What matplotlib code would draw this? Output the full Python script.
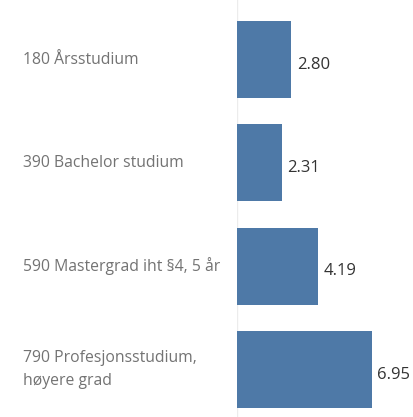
import matplotlib
matplotlib.use("Agg")
import matplotlib.pyplot as plt

# Data
categories = ["180 Årsstudium", "390 Bachelor studium",
              "590 Mastergrad iht §4, 5 år",
              "790 Profesjonsstudium,\nhøyere grad"]
values = [2.80, 2.31, 4.19, 6.95]

plt.rcParams['font.family'] = ['Open Sans', 'DejaVu Sans']

fig = plt.figure(figsize=(4.13, 4.17), dpi=100)
ax = fig.add_axes([237 / 413, 0, 176 / 413, 1])

ypos = list(range(len(values)))
ax.barh(ypos, values, height=0.745, color="#4e79a7", left=0)
ax.set_xlim(0, 176 / 19.4)
ax.set_ylim(3.46, -0.576)

for y, v in zip(ypos, values):
    ax.text(v + 0.28, y + 0.05, f"{v:.2f}", va="center", ha="left",
            fontsize=12, color="#333333")

for y, c in zip(ypos, categories):
    fig.text(23 / 413, 1 - (59.5 + 103.3 * y) / 417, c, va="center", ha="left",
             fontsize=11.3, color="#737373", linespacing=1.55)

ax.axvline(0, color="#ececec", lw=1, zorder=0)
ax.set_xticks([])
ax.set_yticks([])
for s in ax.spines.values():
    s.set_visible(False)

plt.savefig("out.png", dpi=100)
